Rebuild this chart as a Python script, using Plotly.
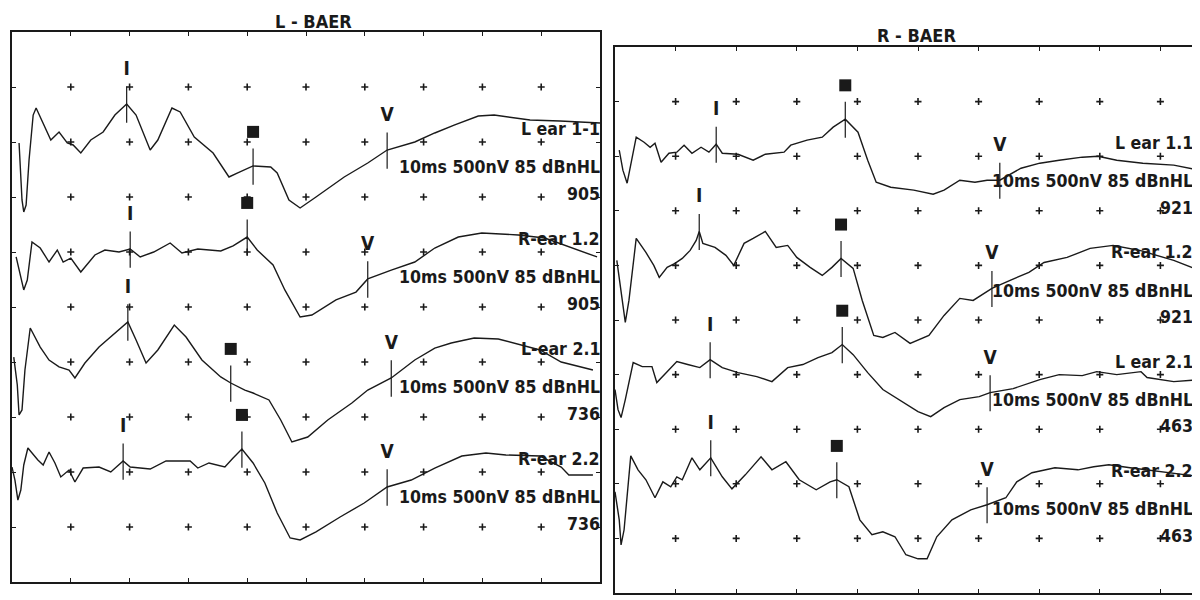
import numpy as np
import plotly.graph_objects as go

# ---------------- data (time in ms, amplitude in nV) ----------------
# Left panel: L - BAER
L1_t = [0.12,0.17,0.20,0.24,0.29,0.36,0.41,0.66,0.80,0.94,1.04,1.17,1.34,1.55,1.75,1.95,2.11,2.35,2.48,2.72,2.86,3.10,3.42,3.69,3.83,4.10,4.40,4.51,4.71,4.90,5.17,5.65,6.05,6.38,6.85,7.19,7.53,7.93,8.20,8.54,8.81,9.32,10.0]
L1_a = [-9,-527,-636,-573,-164,245,309,18,91,-9,-27,-100,18,91,245,345,245,-73,18,309,273,45,-100,-318,-282,-218,-227,-282,-527,-600,-500,-318,-191,-73,0,82,155,236,245,218,200,191,173]

L2_t = [0.07,0.14,0.20,0.26,0.34,0.48,0.63,0.77,0.87,1.00,1.17,1.41,1.58,1.82,2.01,2.18,2.41,2.69,2.89,3.16,3.55,3.76,4.00,4.17,4.44,4.64,4.90,5.10,5.51,5.85,6.05,6.45,6.85,7.19,7.59,7.99,8.27,8.61,9.06,9.54,9.95]
L2_a = [-45,-209,-345,-255,91,36,-91,18,-91,-55,-182,-27,18,0,27,-45,0,82,-9,27,9,55,136,18,-118,-345,-591,-573,-436,-364,-245,-164,-91,36,136,173,164,155,127,36,-45]

L3_t = [0.03,0.09,0.12,0.17,0.22,0.31,0.48,0.63,0.80,0.97,1.07,1.24,1.48,1.75,1.97,2.11,2.28,2.48,2.76,2.96,3.23,3.55,3.72,3.96,4.10,4.37,4.57,4.76,5.03,5.37,5.78,6.05,6.45,6.85,7.19,7.47,7.86,8.27,8.54,8.98,9.34,9.88]
L3_a = [45,-209,-482,-436,-73,309,136,18,-45,-73,-145,-9,136,264,364,200,-9,109,336,227,18,-136,-191,-255,-282,-345,-527,-727,-682,-527,-373,-255,-145,18,127,173,218,209,173,109,0,-73]

L4_t = [0.00,0.05,0.10,0.15,0.20,0.27,0.44,0.53,0.63,0.73,0.83,0.97,1.07,1.21,1.48,1.68,1.89,2.01,2.35,2.62,3.03,3.16,3.35,3.62,3.76,3.91,4.10,4.30,4.51,4.73,4.90,5.17,5.58,5.99,6.38,6.79,7.19,7.65,8.06,8.40,8.98,9.34,9.47,9.88]
L4_a = [45,-73,-255,-164,64,218,109,64,182,82,-45,18,-91,36,45,0,100,45,27,100,100,36,82,45,127,209,82,-100,-373,-600,-618,-545,-409,-282,-136,-73,36,145,173,155,145,45,-27,-27]

# Right panel: R - BAER
R1_t = [0.07,0.13,0.20,0.26,0.35,0.48,0.58,0.66,0.76,0.89,1.02,1.14,1.27,1.42,1.55,1.67,1.77,2.03,2.28,2.48,2.79,2.90,3.17,3.42,3.60,3.80,4.01,4.17,4.31,4.55,4.93,5.25,5.43,5.69,5.94,6.14,6.35,6.70,7.01,7.33,7.71,7.97,8.28,8.71,9.22,9.65,9.80]
R1_a = [55,-128,-247,-82,174,128,82,119,-55,27,37,101,27,82,37,110,27,18,-37,18,37,101,147,174,266,339,220,-37,-238,-284,-311,-348,-311,-220,-238,-220,-220,-110,-64,-37,-9,0,-37,-64,-82,-128,-137]

R2_t = [0.03,0.10,0.17,0.23,0.35,0.51,0.64,0.73,0.86,0.99,1.11,1.24,1.34,1.39,1.45,1.65,1.83,1.96,2.13,2.28,2.48,2.66,2.85,3.00,3.22,3.42,3.58,3.73,3.93,4.08,4.27,4.42,4.62,4.87,5.18,5.43,5.69,5.91,6.22,6.52,6.83,7.08,7.46,7.84,8.22,8.66,9.22,9.65,9.80]
R2_a = [46,-229,-522,-321,247,119,0,-110,-18,18,64,137,229,311,202,165,92,0,202,247,311,165,183,73,-18,-92,-18,64,-27,-321,-641,-660,-614,-714,-641,-458,-302,-321,-211,-137,-64,27,73,156,183,137,46,-46,-64]

R3_t = [0.00,0.05,0.10,0.17,0.30,0.45,0.61,0.69,0.86,1.02,1.20,1.40,1.57,1.77,2.03,2.34,2.59,2.85,3.10,3.35,3.58,3.75,3.93,4.17,4.42,4.69,5.00,5.21,5.43,5.69,6.01,6.19,6.57,7.01,7.33,7.71,7.95,8.28,8.68,8.78,9.22,9.65,9.80]
R3_a = [-137,-321,-394,-229,110,73,73,-73,27,119,92,64,137,64,18,-18,-64,64,92,156,202,275,183,18,-137,-229,-339,-385,-302,-229,-202,-165,-128,-46,0,-9,27,0,27,-27,-64,-46,-46]

R4_t = [0.00,0.07,0.10,0.15,0.26,0.38,0.51,0.66,0.79,0.92,1.02,1.11,1.27,1.40,1.58,1.77,1.93,2.15,2.41,2.59,2.82,3.04,3.32,3.55,3.66,3.86,4.04,4.24,4.42,4.62,4.80,5.00,5.15,5.31,5.56,5.87,6.14,6.45,6.63,6.88,7.26,7.64,7.90,8.15,8.50,9.00,9.65,9.80]
R4_a = [-73,-330,-559,-421,256,128,37,-128,18,-27,64,37,238,128,238,64,-46,82,247,128,202,37,-55,18,37,-27,-330,-467,-440,-485,-650,-687,-687,-485,-330,-238,-192,-128,18,101,147,128,156,174,147,110,64,55]

left_names = ["L ear 1-1", "R-ear 1.2", "L-ear 2.1", "R-ear 2.2"]
left_sweeps = ["905", "905", "736", "736"]
right_names = ["L ear 1.1", "R-ear 1.2", "L ear 2.1", "R-ear 2.2"]
right_sweeps = ["921", "921", "463", "463"]
settings_text = "10ms 500nV 85 dBnHL"
offsets = [4000, 3000, 2000, 1000]          # nV, baseline of each sweep pair

left_I = [1.95, 2.01, 1.97, 1.89]
left_III = [4.10, 4.00, 3.72, 3.91]
left_V = [6.38, 6.05, 6.45, 6.38]
right_I = [1.67, 1.39, 1.57, 1.58]
right_III = [3.80, 3.73, 3.75, 3.66]
right_V = [6.35, 6.22, 6.19, 6.14]

# ---------------- layout helpers (window pixels -> paper; page has an 8px body margin) ----------------
W, H, PAGE_OFF = 1200, 600, 8
def PX(px):
    return (px - PAGE_OFF) / W
def PY(py):
    return 1 - (py - PAGE_OFF) / H

INK = "#1a1a1a"
FONT = "DejaVu Sans Condensed, DejaVu Sans, sans-serif"

fig = go.Figure()

panels = [
    dict(xa="x", ya="y", traces=[(L1_t, L1_a), (L2_t, L2_a), (L3_t, L3_a), (L4_t, L4_a)],
         peaks=(left_I, left_III, left_V), names=left_names, sweeps=left_sweeps, text_x=PX(602)),
    dict(xa="x2", ya="y2", traces=[(R1_t, R1_a), (R2_t, R2_a), (R3_t, R3_a), (R4_t, R4_a)],
         peaks=(right_I, right_III, right_V), names=right_names, sweeps=right_sweeps, text_x=PX(1195)),
]

annotations = []
for p in panels:
    # grid dots
    gx, gy = np.meshgrid(np.arange(1, 10), np.arange(500, 5000, 500))
    fig.add_trace(go.Scatter(x=gx.ravel(), y=gy.ravel(), mode="markers", xaxis=p["xa"], yaxis=p["ya"],
                             marker=dict(symbol="cross-thin", size=5, color=INK, line=dict(width=1.6, color=INK)),
                             hoverinfo="skip", showlegend=False))
    for i, (t, a) in enumerate(p["traces"]):
        t = np.array(t); y = offsets[i] + np.array(a)
        fig.add_trace(go.Scatter(x=t, y=y, mode="lines", xaxis=p["xa"], yaxis=p["ya"],
                                 line=dict(color=INK, width=1.4), hoverinfo="skip", showlegend=False))
        # peak markers
        lx, ly = [], []
        for lab, pk in zip(["I", "III", "V"], p["peaks"]):
            tp = pk[i]
            yp = float(np.interp(tp, t, y))
            lx += [tp, tp, None]; ly += [yp - 170, yp + 160, None]
            if lab == "III":
                fig.add_trace(go.Scatter(x=[tp], y=[yp + 310], mode="markers", xaxis=p["xa"], yaxis=p["ya"],
                                         marker=dict(symbol="square", size=12, color=INK),
                                         hoverinfo="skip", showlegend=False))
            else:
                fig.add_trace(go.Scatter(x=[tp], y=[yp + 310], mode="text", text=["<b>%s</b>" % lab],
                                         xaxis=p["xa"], yaxis=p["ya"],
                                         textfont=dict(family=FONT, size=19, color=INK), textposition="middle center",
                                         hoverinfo="skip", showlegend=False, cliponaxis=False))
        fig.add_trace(go.Scatter(x=lx, y=ly, mode="lines", xaxis=p["xa"], yaxis=p["ya"],
                                 line=dict(color=INK, width=1.2), hoverinfo="skip", showlegend=False))
        # right-side texts
        for txt, dy in [(p["names"][i], 120), (settings_text, -230), (p["sweeps"][i], -475)]:
            annotations.append(dict(xref="paper", yref=p["ya"], x=p["text_x"], y=offsets[i] + dy,
                                    text="<b>%s</b>" % txt, showarrow=False, xanchor="right", yanchor="middle",
                                    font=dict(family=FONT, size=17.6, color=INK)))

annotations.append(dict(xref="paper", yref="paper", x=PX(313), y=PY(21), text="<b>L - BAER</b>",
                        showarrow=False, xanchor="center", yanchor="middle", font=dict(family=FONT, size=18, color=INK)))
annotations.append(dict(xref="paper", yref="paper", x=PX(917), y=PY(35), text="<b>R - BAER</b>",
                        showarrow=False, xanchor="center", yanchor="middle", font=dict(family=FONT, size=18, color=INK)))

axis_common = dict(showgrid=False, zeroline=False, showticklabels=False, showline=True,
                   linecolor=INK, linewidth=1.6, ticks="inside", ticklen=4, tickcolor=INK, tickwidth=1.2)

right_xmax = (1208 - 615) / 60.6   # right panel continues past the window edge

fig.update_layout(
    width=W, height=H, margin=dict(l=0, r=0, t=0, b=0),
    paper_bgcolor="white", plot_bgcolor="white",
    xaxis=dict(domain=[PX(12), PX(600)], range=[0, 10], dtick=1, mirror="ticks", **axis_common),
    yaxis=dict(domain=[PY(582), PY(32)], range=[0, 5000], dtick=500, mirror="ticks", **axis_common),
    xaxis2=dict(domain=[PX(615), 1.0], range=[0, right_xmax], dtick=1, mirror="ticks", anchor="y2", **axis_common),
    yaxis2=dict(domain=[PY(593), PY(47)], range=[0, 5000], dtick=500, mirror=False, anchor="x2", **axis_common),
    annotations=annotations,
)

fig.write_html("out.html")
